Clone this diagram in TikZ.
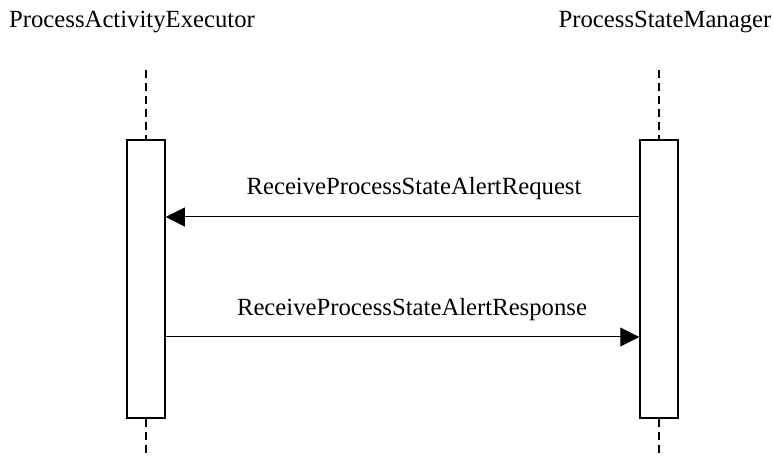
\documentclass[tikz,border=0pt]{standalone}
\usepackage{fontspec}
\setmainfont{Liberation Serif}
\usetikzlibrary{arrows.meta}
\begin{document}
\begin{tikzpicture}[x=1bp,y=-1bp,
  lbl/.style={font=\fontsize{24.8}{28}\selectfont, inner sep=0pt},
  actbox/.style={draw, line width=1.5bp, minimum width=38bp, minimum height=278bp, inner sep=0pt},
  life/.style={line width=1.5bp, dash pattern=on 8bp off 5bp},
  msg/.style={line width=1bp, -{Triangle[length=19bp,width=19bp]}}]
\useasboundingbox (0,0) rectangle (773,458);
\node[lbl] (pae) at (132,22) {ProcessActivityExecutor};
\node[lbl] (psm) at (665,22) {ProcessStateManager};
\node[actbox] (bl) at (146,279) {};
\node[actbox] (br) at (659,279) {};
\coordinate (tl) at (146,70);
\coordinate (tr) at (659,70);
\coordinate (el) at (146,458);
\coordinate (er) at (659,458);
\draw[life] (tl) -- (bl.north);
\draw[life] (tr) -- (br.north);
\draw[life] (bl.south) -- (el);
\draw[life] (br.south) -- (er);
\coordinate (m1) at (0,217);
\coordinate (m2) at (0,337);
\draw[msg] (br.west |- m1) -- (bl.east |- m1);
\draw[msg] (bl.east |- m2) -- (br.west |- m2);
\node[lbl] (l1) at (414,189) {ReceiveProcessStateAlertRequest};
\node[lbl] (l2) at (412,310) {ReceiveProcessStateAlertResponse};
\end{tikzpicture}
\end{document}
